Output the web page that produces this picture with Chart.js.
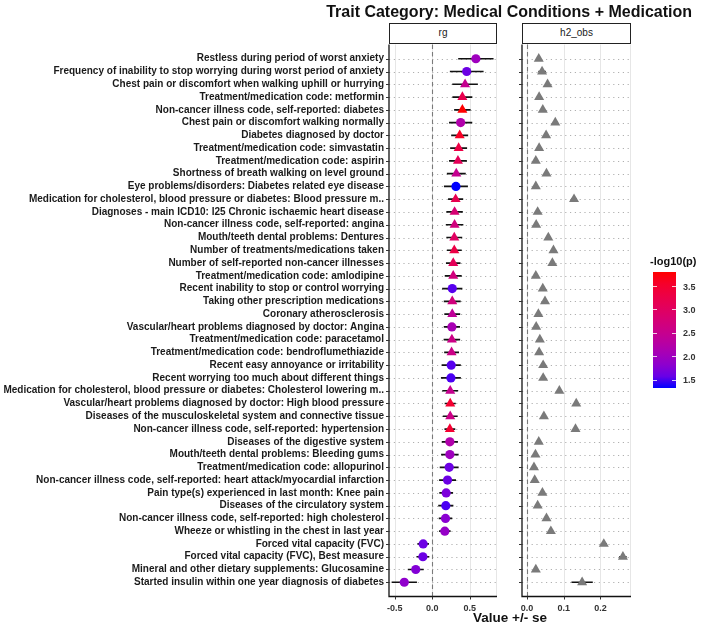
<!DOCTYPE html>
<html>
<head>
<meta charset="utf-8">
<script src="https://cdn.jsdelivr.net/npm/chart.js@4.4.1/dist/chart.umd.min.js"></script>
<style>
  body { margin: 0; background: #fff; }
  #lienzo { position: relative; width: 709px; height: 630px; font-family: "Liberation Sans", Arial, sans-serif; overflow: hidden; }
  #lienzo canvas { position: absolute; left: 0; top: 0; }
  .titulo { position: absolute; right: 17px; top: 3px; font-size: 16px; font-weight: bold; color: #111; white-space: nowrap; }
  .tira { position: absolute; top: 23px; height: 21px; border: 1.3px solid #222; box-sizing: border-box; background: #fff;
          text-align: center; font-size: 10px; line-height: 18px; color: #1a1a1a; }
  .eje-titulo { position: absolute; top: 610px; left: 389px; width: 242px; text-align: center; font-size: 13.5px; font-weight: bold; color: #111; }
  .leyenda-titulo { position: absolute; left: 650px; top: 255px; font-size: 11px; font-weight: bold; color: #111; }
  #barra { position: absolute; left: 653px; top: 272px; width: 23px; height: 116px; }
  .marca { position: absolute; width: 4px; height: 1px; background: rgba(255,255,255,0.8); }
  .etiq { position: absolute; left: 683px; font-size: 9px; font-weight: bold; color: #333; line-height: 10px; }
</style>
</head>
<body>
<div id="lienzo">
  <canvas id="chart-rg" width="709" height="630"></canvas>
  <canvas id="chart-h2" width="709" height="630"></canvas>
  <div class="titulo">Trait Category: Medical Conditions + Medication</div>
  <div class="tira" style="left:389px; width:108px;">rg</div>
  <div class="tira" style="left:522px; width:109px;">h2_obs</div>
  <div class="eje-titulo">Value +/- se</div>
  <div class="leyenda-titulo">-log10(p)</div>
  <div id="barra"></div>
</div>
<script>
// Rasgos (de arriba hacia abajo)
const etiquetas = [
  "Restless during period of worst anxiety",
  "Frequency of inability to stop worrying during worst period of anxiety",
  "Chest pain or discomfort when walking uphill or hurrying",
  "Treatment/medication code: metformin",
  "Non-cancer illness code, self-reported: diabetes",
  "Chest pain or discomfort walking normally",
  "Diabetes diagnosed by doctor",
  "Treatment/medication code: simvastatin",
  "Treatment/medication code: aspirin",
  "Shortness of breath walking on level ground",
  "Eye problems/disorders: Diabetes related eye disease",
  "Medication for cholesterol, blood pressure or diabetes: Blood pressure m..",
  "Diagnoses - main ICD10: I25 Chronic ischaemic heart disease",
  "Non-cancer illness code, self-reported: angina",
  "Mouth/teeth dental problems: Dentures",
  "Number of treatments/medications taken",
  "Number of self-reported non-cancer illnesses",
  "Treatment/medication code: amlodipine",
  "Recent inability to stop or control worrying",
  "Taking other prescription medications",
  "Coronary atherosclerosis",
  "Vascular/heart problems diagnosed by doctor: Angina",
  "Treatment/medication code: paracetamol",
  "Treatment/medication code: bendroflumethiazide",
  "Recent easy annoyance or irritability",
  "Recent worrying too much about different things",
  "Medication for cholesterol, blood pressure or diabetes: Cholesterol lowering m..",
  "Vascular/heart problems diagnosed by doctor: High blood pressure",
  "Diseases of the musculoskeletal system and connective tissue",
  "Non-cancer illness code, self-reported: hypertension",
  "Diseases of the digestive system",
  "Mouth/teeth dental problems: Bleeding gums",
  "Treatment/medication code: allopurinol",
  "Non-cancer illness code, self-reported: heart attack/myocardial infarction",
  "Pain type(s) experienced in last month: Knee pain",
  "Diseases of the circulatory system",
  "Non-cancer illness code, self-reported: high cholesterol",
  "Wheeze or whistling in the chest in last year",
  "Forced vital capacity (FVC)",
  "Forced vital capacity (FVC), Best measure",
  "Mineral and other dietary supplements: Glucosamine",
  "Started insulin within one year diagnosis of diabetes"
];

// Correlación genética (rg) y su error estándar
const rgValor = [0.581, 0.459, 0.437, 0.401, 0.401, 0.378, 0.365, 0.351, 0.342, 0.320, 0.315, 0.311, 0.297, 0.297,
  0.293, 0.293, 0.279, 0.279, 0.266, 0.266, 0.266, 0.261, 0.261, 0.257, 0.252, 0.248, 0.239, 0.239, 0.239, 0.234,
  0.234, 0.234, 0.225, 0.203, 0.185, 0.180, 0.176, 0.167, -0.122, -0.126, -0.221, -0.374];
const rgSe = [0.236, 0.225, 0.171, 0.133, 0.110, 0.155, 0.113, 0.113, 0.119, 0.126, 0.160, 0.101, 0.110, 0.117,
  0.106, 0.099, 0.097, 0.113, 0.135, 0.113, 0.106, 0.108, 0.110, 0.099, 0.128, 0.133, 0.106, 0.074, 0.099, 0.072,
  0.108, 0.117, 0.126, 0.113, 0.092, 0.101, 0.090, 0.077, 0.077, 0.086, 0.106, 0.169];

// Heredabilidad observada (h2_obs) y su error estándar
const h2Valor = [0.032, 0.041, 0.056, 0.033, 0.043, 0.077, 0.052, 0.033, 0.024, 0.053, 0.024, 0.128, 0.029, 0.025,
  0.058, 0.072, 0.069, 0.024, 0.043, 0.049, 0.031, 0.025, 0.035, 0.033, 0.044, 0.044, 0.088, 0.134, 0.046, 0.132,
  0.032, 0.023, 0.019, 0.021, 0.042, 0.029, 0.053, 0.065, 0.209, 0.261, 0.024, 0.150];
const h2Se = [0.006, 0.010, 0.006, 0.004, 0.004, 0.006, 0.005, 0.004, 0.004, 0.005, 0.005, 0.007, 0.005, 0.004,
  0.006, 0.005, 0.005, 0.004, 0.006, 0.004, 0.005, 0.004, 0.004, 0.004, 0.006, 0.006, 0.005, 0.006, 0.005, 0.005,
  0.004, 0.004, 0.004, 0.004, 0.004, 0.004, 0.004, 0.005, 0.008, 0.010, 0.004, 0.029];

// -log10(p) de rg (color) y forma del punto
const menosLog10p = [2.0, 1.6, 2.5, 3.2, 3.81, 2.2, 3.6, 3.3, 3.1, 2.5, 1.33, 3.2, 2.8, 2.7, 3.0, 3.3, 3.1, 2.7,
  1.5, 2.7, 2.4, 2.1, 2.6, 2.6, 1.5, 1.45, 2.5, 3.5, 2.6, 3.5, 2.2, 2.0, 1.6, 1.6, 1.7, 1.45, 1.8, 1.9, 1.6, 1.6,
  1.75, 1.85];
const formas = ['circle', 'circle', 'triangle', 'triangle', 'triangle', 'circle', 'triangle', 'triangle', 'triangle',
  'triangle', 'circle', 'triangle', 'triangle', 'triangle', 'triangle', 'triangle', 'triangle', 'triangle', 'circle',
  'triangle', 'triangle', 'circle', 'triangle', 'triangle', 'circle', 'circle', 'triangle', 'triangle', 'triangle',
  'triangle', 'circle', 'circle', 'circle', 'circle', 'circle', 'circle', 'circle', 'circle', 'circle', 'circle',
  'circle', 'circle'];

// Marcas de los ejes
const ticksRg = [-0.5, 0.0, 0.5];
const ticksH2 = [0.0, 0.1, 0.2];
const ticksLeyenda = [1.5, 2.0, 2.5, 3.0, 3.5];

const fuente = "'Liberation Sans', Arial, sans-serif";

// --- Escala de color azul -> rojo interpolada en Lab (como ggplot) ---
function aLab(rgb) {
  const lin = rgb.map(c => { c /= 255; return c <= 0.04045 ? c / 12.92 : Math.pow((c + 0.055) / 1.055, 2.4); });
  const X = (0.4124 * lin[0] + 0.3576 * lin[1] + 0.1805 * lin[2]) / 0.95047;
  const Y = (0.2126 * lin[0] + 0.7152 * lin[1] + 0.0722 * lin[2]);
  const Z = (0.0193 * lin[0] + 0.1192 * lin[1] + 0.9505 * lin[2]) / 1.08883;
  const f = t => t > 0.008856 ? Math.cbrt(t) : 7.787 * t + 16 / 116;
  return [116 * f(Y) - 16, 500 * (f(X) - f(Y)), 200 * (f(Y) - f(Z))];
}
function deLab(lab) {
  const fy = (lab[0] + 16) / 116, fx = fy + lab[1] / 500, fz = fy - lab[2] / 200;
  const inv = t => t * t * t > 0.008856 ? t * t * t : (t - 16 / 116) / 7.787;
  const X = 0.95047 * inv(fx), Y = inv(fy), Z = 1.08883 * inv(fz);
  const lin = [3.2406 * X - 1.5372 * Y - 0.4986 * Z, -0.9689 * X + 1.8758 * Y + 0.0415 * Z, 0.0557 * X - 0.2040 * Y + 1.0570 * Z];
  const c = lin.map(v => { v = v <= 0.0031308 ? 12.92 * v : 1.055 * Math.pow(v, 1 / 2.4) - 0.055; return Math.round(Math.max(0, Math.min(1, v)) * 255); });
  return `rgb(${c[0]}, ${c[1]}, ${c[2]})`;
}
const labBajo = aLab([0, 0, 255]);
const labAlto = aLab([255, 0, 0]);
const pMin = Math.min(...menosLog10p);
const pMax = Math.max(...menosLog10p);
function colorP(v) {
  const t = (v - pMin) / (pMax - pMin);
  return deLab(labBajo.map((b, k) => b + (labAlto[k] - b) * t));
}

// Plugin: fondo del panel (rejilla, línea en cero, ejes)
const pluginPanel = {
  id: 'panel',
  beforeDatasetsDraw(chart, args, opts) {
    const { ctx, chartArea: a, scales: { x, y } } = chart;
    ctx.save();
    ctx.lineWidth = 1;
    // rejilla vertical
    ctx.strokeStyle = '#e6e6e6';
    opts.ticks.forEach(t => {
      const px = Math.round(x.getPixelForValue(t)) + 0.5;
      ctx.beginPath(); ctx.moveTo(px, a.top); ctx.lineTo(px, a.bottom); ctx.stroke();
    });
    ctx.beginPath(); ctx.moveTo(a.right - 0.5, a.top); ctx.lineTo(a.right - 0.5, a.bottom); ctx.stroke();
    // rejilla horizontal punteada
    ctx.strokeStyle = '#b0b0b0';
    ctx.setLineDash([1.2, 3.6]);
    etiquetas.forEach((_, i) => {
      const py = Math.round(y.getPixelForValue(i)) + 0.5;
      ctx.beginPath(); ctx.moveTo(a.left, py); ctx.lineTo(a.right, py); ctx.stroke();
    });
    // línea discontinua en cero
    ctx.strokeStyle = '#7a7a7a';
    ctx.lineWidth = 1.1;
    ctx.setLineDash([4.5, 3]);
    const cero = Math.round(x.getPixelForValue(0)) + 0.5;
    ctx.beginPath(); ctx.moveTo(cero, a.top); ctx.lineTo(cero, a.bottom); ctx.stroke();
    // ejes
    ctx.setLineDash([]);
    ctx.strokeStyle = '#111';
    ctx.lineWidth = 1.3;
    ctx.beginPath(); ctx.moveTo(a.left, a.top); ctx.lineTo(a.left, a.bottom); ctx.lineTo(a.right, a.bottom); ctx.stroke();
    ctx.strokeStyle = '#333';
    ctx.lineWidth = 1;
    etiquetas.forEach((_, i) => {
      const py = Math.round(y.getPixelForValue(i)) + 0.5;
      ctx.beginPath(); ctx.moveTo(a.left - 3, py); ctx.lineTo(a.left, py); ctx.stroke();
    });
    opts.ticks.forEach(t => {
      const px = Math.round(x.getPixelForValue(t)) + 0.5;
      ctx.beginPath(); ctx.moveTo(px, a.bottom); ctx.lineTo(px, a.bottom + 3); ctx.stroke();
    });
    ctx.restore();
  }
};

// Crear un panel (rg o h2_obs)
function crearPanel(idCanvas, valores, errores, colores, formasPunto, ticks, xMin, xMax, izquierda, derecha, conEtiquetas) {
  const ctx = document.getElementById(idCanvas).getContext('2d');

  const puntos = {
    type: 'scatter',
    data: valores.map((v, i) => ({ x: v, y: i })),
    backgroundColor: colores,
    borderWidth: 0,
    pointStyle: formasPunto,
    pointRadius: formasPunto.map(f => f === 'triangle' ? 5.8 : 4.6),
    order: 0
  };
  const barrasError = {
    type: 'bar',
    indexAxis: 'y',
    data: valores.map((v, i) => ({ x: [v - errores[i], v + errores[i]], y: i })),
    backgroundColor: '#111',
    barThickness: 1.7,
    inflateAmount: 0,
    borderWidth: 0,
    order: 1
  };

  return new Chart(ctx, {
    type: 'scatter',
    data: { datasets: [puntos, barrasError] },
    options: {
      responsive: false,
      animation: false,
      devicePixelRatio: 1,
      layout: { padding: { top: 44.5, right: 709 - derecha, bottom: 0, left: 0 } },
      plugins: { legend: { display: false }, tooltip: { enabled: false }, panel: { ticks: ticks } },
      scales: {
        x: {
          type: 'linear', min: xMin, max: xMax,
          afterBuildTicks: s => { s.ticks = ticks.map(v => ({ value: v })); },
          afterFit: s => { s.height = 33.5; },
          grid: { display: false, drawTicks: false },
          border: { display: false },
          ticks: { padding: 7, color: '#333', font: { family: fuente, size: 9, weight: 'bold' }, callback: v => v.toFixed(1) }
        },
        y: {
          type: 'linear', reverse: true, min: -0.6, max: etiquetas.length - 0.4,
          afterBuildTicks: s => { s.ticks = etiquetas.map((_, i) => ({ value: i })); },
          afterFit: s => { s.width = izquierda; },
          grid: { display: false, drawTicks: false },
          border: { display: false },
          ticks: {
            display: conEtiquetas, autoSkip: false, padding: 5, color: '#1a1a1a',
            font: { family: fuente, size: 10, weight: 'bold' },
            callback: v => etiquetas[v]
          }
        }
      }
    },
    plugins: [pluginPanel]
  });
}

crearPanel('chart-rg', rgValor, rgSe, menosLog10p.map(colorP), formas, ticksRg, -0.578, 0.863, 389, 497, true);
crearPanel('chart-h2', h2Valor, h2Se, h2Valor.map(() => '#7a7a7a'), h2Valor.map(() => 'triangle'), ticksH2, -0.0136, 0.283, 522, 631, false);

// Leyenda de color (-log10(p))
const barra = document.getElementById('barra');
const paradas = [];
for (let k = 0; k <= 10; k++) {
  const v = pMax - (pMax - pMin) * k / 10;
  paradas.push(`${colorP(v)} ${k * 10}%`);
}
barra.style.background = `linear-gradient(to bottom, ${paradas.join(', ')})`;
const lienzo = document.getElementById('lienzo');
ticksLeyenda.forEach(v => {
  const py = 272 + 116 * (pMax - v) / (pMax - pMin);
  [653, 672].forEach(px => {
    const m = document.createElement('div');
    m.className = 'marca';
    m.style.left = px + 'px';
    m.style.top = (py - 0.5) + 'px';
    lienzo.appendChild(m);
  });
  const e = document.createElement('div');
  e.className = 'etiq';
  e.style.top = (py - 5) + 'px';
  e.textContent = v.toFixed(1);
  lienzo.appendChild(e);
});
</script>
</body>
</html>
